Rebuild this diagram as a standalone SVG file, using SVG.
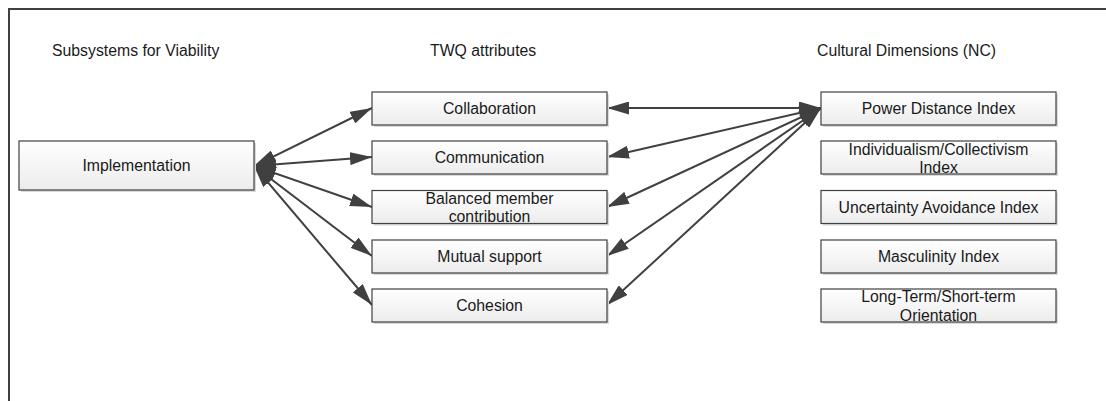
<svg xmlns="http://www.w3.org/2000/svg" width="1106" height="401" viewBox="0 0 1106 401">
<style>
.box{fill:url(#g);stroke:#404040;stroke-width:1.2}
.sh{fill:#dadada}
.t{font-family:"Liberation Sans",Arial,sans-serif;font-size:15.8px;fill:#1a1a1a}
.c{text-anchor:middle}
.ln{stroke:#404040;stroke-width:2;fill:none;marker-start:url(#a);marker-end:url(#a)}
</style>
<defs>
<linearGradient id="g" x1="0" y1="0" x2="0" y2="1">
<stop offset="0" stop-color="#ffffff"/>
<stop offset="1" stop-color="#ececec"/>
</linearGradient>
<marker id="a" viewBox="0 0 22 13" markerWidth="22" markerHeight="13" markerUnits="userSpaceOnUse" refX="22" refY="6.5" orient="auto-start-reverse">
<path d="M0,0 L22,6.5 L0,13 z" fill="#404040"/>
</marker>
</defs>
<rect width="1106" height="401" fill="#ffffff"/>
<path d="M9,410 V9 H1112" fill="none" stroke="#404040" stroke-width="2"/>
<g id="titles">
<text class="t" x="52" y="56">Subsystems for Viability</text>
<text class="t" x="430" y="56">TWQ attributes</text>
<text class="t" x="817" y="56">Cultural Dimensions (NC)</text>
</g>
<g id="connectors">
<line class="ln" x1="254" y1="166" x2="372" y2="108"/>
<line class="ln" x1="254" y1="166" x2="372" y2="157"/>
<line class="ln" x1="254" y1="166" x2="372" y2="207"/>
<line class="ln" x1="254" y1="166" x2="372" y2="256"/>
<line class="ln" x1="254" y1="166" x2="372" y2="305"/>
<line class="ln" x1="821" y1="108" x2="607" y2="108"/>
<line class="ln" x1="821" y1="108" x2="607" y2="157"/>
<line class="ln" x1="821" y1="108" x2="607" y2="207"/>
<line class="ln" x1="821" y1="108" x2="607" y2="256"/>
<line class="ln" x1="821" y1="108" x2="607" y2="305"/>
</g>
<g id="implementation">
<rect class="sh" x="21" y="143" width="235" height="49"/>
<rect class="box" x="19" y="141" width="235" height="49"/>
<text class="t c" x="136.5" y="171">Implementation</text>
</g>
<g id="collaboration">
<rect class="sh" x="374" y="94" width="235" height="33"/>
<rect class="box" x="372" y="92" width="235" height="33"/>
<text class="t c" x="489.5" y="114">Collaboration</text>
</g>
<g id="communication">
<rect class="sh" x="374" y="143" width="235" height="33"/>
<rect class="box" x="372" y="141" width="235" height="33"/>
<text class="t c" x="489.5" y="163">Communication</text>
</g>
<g id="balanced">
<rect class="sh" x="374" y="192.5" width="235" height="33"/>
<rect class="box" x="372" y="190.5" width="235" height="33"/>
<text class="t c" x="489.5" y="204">Balanced member</text>
<text class="t c" x="489.5" y="221.5">contribution</text>
</g>
<g id="mutual">
<rect class="sh" x="374" y="242" width="235" height="33"/>
<rect class="box" x="372" y="240" width="235" height="33"/>
<text class="t c" x="489.5" y="262">Mutual support</text>
</g>
<g id="cohesion">
<rect class="sh" x="374" y="291" width="235" height="33"/>
<rect class="box" x="372" y="289" width="235" height="33"/>
<text class="t c" x="489.5" y="311">Cohesion</text>
</g>
<g id="pdi">
<rect class="sh" x="823" y="94" width="235" height="33"/>
<rect class="box" x="821" y="92" width="235" height="33"/>
<text class="t c" x="938.5" y="114">Power Distance Index</text>
</g>
<g id="idv">
<rect class="sh" x="823" y="143" width="235" height="33"/>
<rect class="box" x="821" y="141" width="235" height="33"/>
<text class="t c" x="938.5" y="155">Individualism/Collectivism</text>
<text class="t c" x="938.5" y="173">Index</text>
</g>
<g id="uai">
<rect class="sh" x="823" y="192.5" width="235" height="33"/>
<rect class="box" x="821" y="190.5" width="235" height="33"/>
<text class="t c" x="938.5" y="212.5">Uncertainty Avoidance Index</text>
</g>
<g id="mas">
<rect class="sh" x="823" y="242" width="235" height="33"/>
<rect class="box" x="821" y="240" width="235" height="33"/>
<text class="t c" x="938.5" y="262">Masculinity Index</text>
</g>
<g id="lto">
<rect class="sh" x="823" y="291" width="235" height="33"/>
<rect class="box" x="821" y="289" width="235" height="33"/>
<text class="t c" x="938.5" y="302">Long-Term/Short-term</text>
<text class="t c" x="938.5" y="320.5">Orientation</text>
</g>
</svg>
